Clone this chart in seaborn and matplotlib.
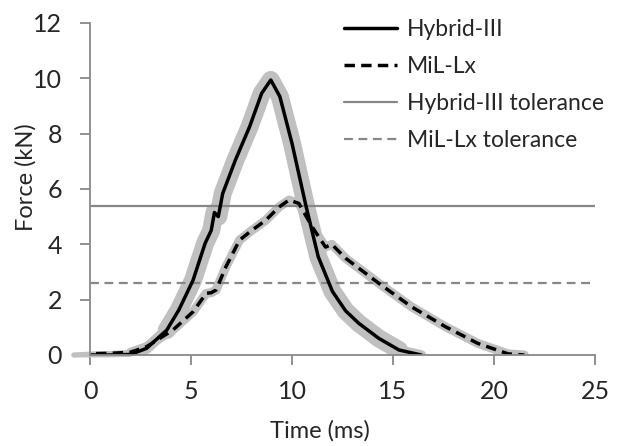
import matplotlib
matplotlib.use("Agg")
import matplotlib.pyplot as plt
import seaborn as sns
import pandas as pd

# Data
hyb_time = [-0.8, 0.0, 1.0, 2.0, 2.8, 3.8, 4.4, 5.1, 5.7, 6.0, 6.16, 6.35, 6.57, 7.2, 7.9, 8.5, 8.95, 9.4, 10.0, 10.7, 11.3, 12.0, 12.65, 13.3, 14.3, 15.3, 16.4]
hyb_force = [0.0, 0.0, 0.0, 0.02, 0.24, 0.9, 1.63, 2.7, 4.04, 4.5, 5.15, 5.0, 5.84, 7.05, 8.25, 9.46, 9.94, 9.34, 7.65, 5.36, 3.55, 2.3, 1.6, 1.15, 0.6, 0.18, 0.0]
mil_time = [-0.8, 0.3, 1.0, 2.0, 2.8, 4.1, 5.1, 5.75, 6.0, 6.24, 6.73, 7.4, 8.0, 8.7, 9.36, 9.85, 10.34, 11.0, 11.66, 11.97, 12.65, 14.3, 15.9, 17.6, 19.2, 20.7, 21.5]
mil_force = [0.0, 0.05, 0.06, 0.1, 0.3, 0.9, 1.56, 2.23, 2.25, 2.35, 3.19, 4.15, 4.5, 4.87, 5.35, 5.6, 5.48, 4.63, 3.9, 4.0, 3.5, 2.59, 1.75, 1.02, 0.42, 0.04, 0.0]
hyb_tol = 5.4
mil_tol = 2.6

x_ticks = [0, 5, 10, 15, 20, 25]
y_ticks = [0, 2, 4, 6, 8, 10, 12]
legend_order = ["Hybrid-III", "MiL-Lx", "Hybrid-III tolerance", "MiL-Lx tolerance"]

sns.set_style("ticks")
plt.rcParams['font.family'] = ['Lato', 'DejaVu Sans']

fig = plt.figure(figsize=(6.39, 4.46), dpi=100)
ax = fig.add_axes([90/639, 1-355/446, (595-90)/639, (355-23)/446])

hyb = pd.DataFrame({"t": hyb_time, "F": hyb_force})
mil = pd.DataFrame({"t": mil_time, "F": mil_force})

band = "#c0c0c0"
tolc = "#878787"
# grey corridor bands: thin near the baseline, wide where the curves rise
segments = [
    (hyb, -1, 2.0, 3.5, False), (hyb, 2.0, 3.8, 8, True), (hyb, 3.8, 15.3, 13, True),
    (hyb, 15.3, 17, 7, True),
    (mil, -1, 2.0, 3.5, False), (mil, 2.0, 22, 6.5, True),
]
for df, t0, t1, lw, clip in segments:
    seg = df[(df.t >= t0) & (df.t <= t1)]
    sns.lineplot(data=seg, x="t", y="F", ax=ax, color=band, linewidth=lw, sort=False,
                 estimator=None, legend=False, clip_on=clip, solid_capstyle="round",
                 solid_joinstyle="round")

ax.axhline(hyb_tol, color=tolc, linewidth=1.6, label="Hybrid-III tolerance")
ax.axhline(mil_tol, color=tolc, linewidth=1.6, linestyle=(0, (4, 2.5)), label="MiL-Lx tolerance")

sns.lineplot(data=hyb[hyb.t >= 0], x="t", y="F", ax=ax, color="black", linewidth=2.5,
             sort=False, estimator=None, label="Hybrid-III")
sns.lineplot(data=mil[mil.t >= 0.3], x="t", y="F", ax=ax, color="black", linewidth=2.5,
             linestyle=(0, (3, 1.8)), sort=False, estimator=None, label="MiL-Lx")

ax.set_xlim(0, 25)
ax.set_ylim(0, 12)
ax.set_xticks(x_ticks)
ax.set_yticks(y_ticks)
ax.set_xlabel("Time (ms)", fontsize=17)
ax.set_ylabel("Force (kN)", fontsize=17)
ax.tick_params(axis="both", labelsize=18, color="#898989", length=7, width=1.3)
ax.tick_params(axis="x", pad=11)
ax.tick_params(axis="y", pad=13)
ax.xaxis.set_label_coords(0.5, 1-420/446, transform=fig.transFigure)
ax.yaxis.set_label_coords(37/639, 1-177/446, transform=fig.transFigure)
for s in ["top", "right"]:
    ax.spines[s].set_visible(False)
for s in ["left", "bottom"]:
    ax.spines[s].set_color("#898989")
    ax.spines[s].set_linewidth(1.3)

h, l = ax.get_legend_handles_labels()
hd = dict(zip(l, h))
ax.legend([hd[k] for k in legend_order], legend_order, loc="upper left",
          bbox_to_anchor=(344/639, 1-19/446), bbox_transform=fig.transFigure,
          frameon=False, fontsize=16.5, handlelength=2.3, handletextpad=0.45,
          labelspacing=0.7, borderaxespad=0, borderpad=0)

fig.savefig("out.png", dpi=100)
